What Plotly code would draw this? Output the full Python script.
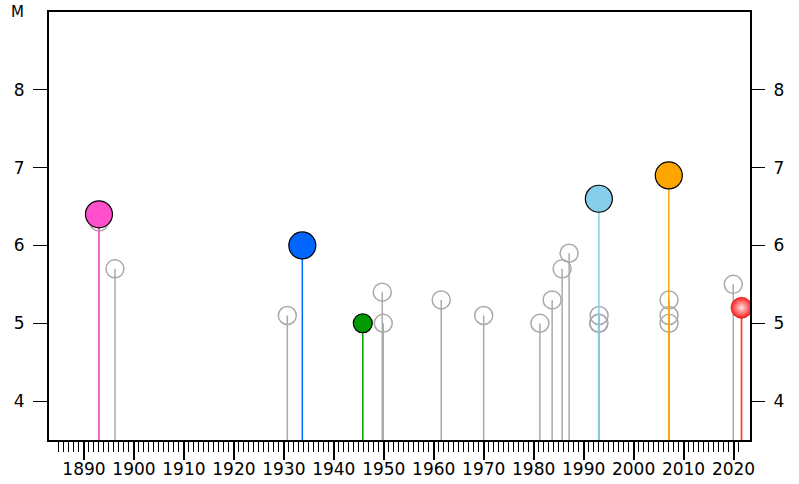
import plotly.graph_objects as go

# Minor events (hollow gray circles)
gray_years = [1893.0, 1896.2, 1930.7, 1949.7, 1949.9, 1961.5, 1970.0, 1981.25, 1983.7,
              1985.7, 1987.1, 1993.1, 1993.0, 1993.05, 2007.1, 2007.1, 2007.1, 2019.95]
gray_mags = [6.3, 5.7, 5.1, 5.4, 5.0, 5.3, 5.1, 5.0, 5.3,
             5.7, 5.9, 5.1, 5.0, 5.0, 5.3, 5.1, 5.0, 5.5]

# Major events (filled coloured circles)
major_years = [1893.0, 1933.7, 1945.8, 1993.05, 2007.05]
major_mags = [6.4, 6.0, 5.0, 6.6, 6.9]
major_colors = ["#FF4FCB", "#0066FF", "#009900", "#87CEEB", "#FFA500"]
major_sizes = [27, 27, 19, 27, 27]

# Latest event (glossy red)
latest_year = [2021.6]
latest_mag = [5.2]

x_range = [1883.0, 2023.3]
y_range = [3.5, 9.0]
major_tick_years = list(range(1890, 2021, 10))
minor_tick_years = list(range(1885, 2022))
y_ticks = [4, 5, 6, 7, 8]

BASE = y_range[0]
fig = go.Figure()

# gray stems
sx, sy = [], []
for yr, m in zip(gray_years, gray_mags):
    sx += [yr, yr, None]
    sy += [BASE, m, None]
fig.add_trace(go.Scatter(x=sx, y=sy, mode="lines",
                         line=dict(color="#AAAAAA", width=1.5),
                         hoverinfo="skip", showlegend=False))
fig.add_trace(go.Scatter(x=gray_years, y=gray_mags, mode="markers",
                         marker=dict(symbol="circle-open", size=18,
                                     color="#AAAAAA", line=dict(width=1.5)),
                         showlegend=False))

# coloured stems + markers
for yr, m, c, s in zip(major_years, major_mags, major_colors, major_sizes):
    fig.add_trace(go.Scatter(x=[yr, yr], y=[BASE, m], mode="lines",
                             line=dict(color=c, width=1.5),
                             hoverinfo="skip", showlegend=False))
    fig.add_trace(go.Scatter(x=[yr], y=[m], mode="markers",
                             marker=dict(size=s, color=c,
                                         line=dict(color="black", width=1.2)),
                             showlegend=False))

# latest red event
fig.add_trace(go.Scatter(x=[latest_year[0], latest_year[0]], y=[BASE, latest_mag[0]],
                         mode="lines", line=dict(color="#FF4040", width=1.8),
                         hoverinfo="skip", showlegend=False))
fig.add_trace(go.Scatter(x=latest_year, y=latest_mag, mode="markers",
                         marker=dict(size=21, color="#FF2020",
                                     gradient=dict(type="radial", color="#FFE0E0"),
                                     line=dict(width=0.6, color="#E00000")),
                         showlegend=False))

# invisible traces for the right y axis and the long-tick x axis
fig.add_trace(go.Scatter(x=[x_range[0]], y=[y_range[0]], yaxis="y2", mode="markers",
                         marker=dict(opacity=0), hoverinfo="skip", showlegend=False))
fig.add_trace(go.Scatter(x=[x_range[0]], y=[y_range[0]], xaxis="x2", mode="markers",
                         marker=dict(opacity=0), hoverinfo="skip", showlegend=False))

tickfont = dict(family="DejaVu Sans", size=17, color="black")

fig.update_layout(
    width=799, height=484,
    margin=dict(l=49, r=49, t=12, b=44, autoexpand=False),
    plot_bgcolor="white", paper_bgcolor="white",
    xaxis=dict(range=x_range, showgrid=False, zeroline=False, automargin=False,
               showline=True, linecolor="black", linewidth=2, mirror=True,
               tickmode="array", tickvals=major_tick_years,
               ticktext=[str(v) for v in major_tick_years],
               ticks="outside", ticklen=10, tickwidth=1.2, tickcolor="black",
               ticklabelstandoff=3,
               tickfont=tickfont,
               minor=dict(tickmode="array", tickvals=minor_tick_years,
                          ticks="outside", ticklen=10, tickwidth=1.2,
                          tickcolor="black", showgrid=False)),
    xaxis2=dict(range=x_range, matches="x", overlaying="x", side="bottom",
                automargin=False, showgrid=False, zeroline=False, showline=False,
                tickmode="array", tickvals=major_tick_years, showticklabels=False,
                ticks="outside", ticklen=19, tickwidth=1.6, tickcolor="black"),
    yaxis=dict(range=y_range, showgrid=False, zeroline=False, automargin=False,
               showline=True, linecolor="black", linewidth=2, mirror=True,
               tickmode="array", tickvals=y_ticks,
               ticks="outside", ticklen=14, tickwidth=1.2, tickcolor="black",
               ticklabelstandoff=5,
               tickfont=tickfont),
    yaxis2=dict(range=y_range, matches="y", overlaying="y", side="right",
                automargin=False,
                showgrid=False, zeroline=False, showline=False,
                tickmode="array", tickvals=y_ticks,
                ticks="outside", ticklen=14, tickwidth=1.2, tickcolor="black",
                ticklabelstandoff=5,
                tickfont=tickfont),
    annotations=[dict(text="M", xref="paper", yref="paper",
                      x=-0.0456, y=1.0, xanchor="center", yanchor="middle",
                      showarrow=False, font=dict(family="DejaVu Sans", size=15, color="black"))],
)

fig.write_html("out.html", config={"displayModeBar": False},
               post_script="document.body.style.margin='0';document.body.style.overflow='hidden';")
